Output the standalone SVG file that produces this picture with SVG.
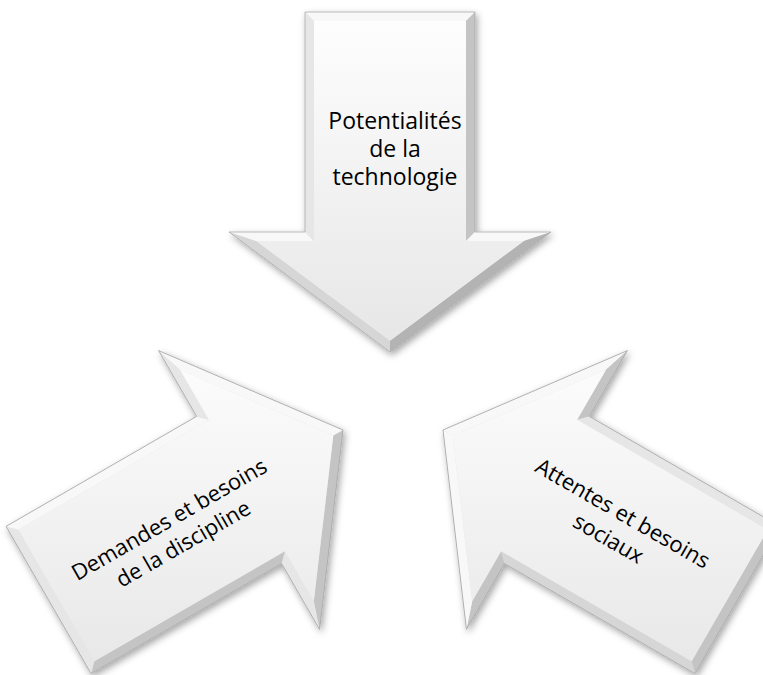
<svg xmlns="http://www.w3.org/2000/svg" xmlns:xlink="http://www.w3.org/1999/xlink" width="763" height="675" viewBox="0 0 763 675">
<style>
.lbl{font-family:"Open Sans","Noto Sans","DejaVu Sans",sans-serif;font-size:22px;fill:#000;text-anchor:middle}
.big{font-size:23px}
.edge{fill:none;stroke:#a9a9a9;stroke-width:0.8;stroke-linejoin:miter}
.c1{fill:#f8f8f8}.c2{fill:#e6e6e6}.c3{fill:#d6d6d6}.c4{fill:#c4c4c4}.c5{fill:#b3b3b3}
</style>
<defs>
<filter id="sh" x="-20%" y="-20%" width="140%" height="140%">
<feDropShadow dx="2" dy="3" stdDeviation="3.5" flood-color="#000" flood-opacity="0.35"/>
</filter>
<linearGradient id="gTop" gradientUnits="userSpaceOnUse" x1="-340" y1="0" x2="0" y2="0">
<stop offset="0" stop-color="#fefefe"/><stop offset="1" stop-color="#e6e6e6"/>
</linearGradient>
<linearGradient id="gLeft" gradientUnits="userSpaceOnUse" x1="-80" y1="-156" x2="-260" y2="156">
<stop offset="0" stop-color="#fefefe"/><stop offset="1" stop-color="#e6e6e6"/>
</linearGradient>
<linearGradient id="gRight" gradientUnits="userSpaceOnUse" x1="-80" y1="156" x2="-260" y2="-156">
<stop offset="0" stop-color="#fefefe"/><stop offset="1" stop-color="#e6e6e6"/>
</linearGradient>
<polygon id="outer" points="0,0 -120,161 -120,85 -340,85 -340,-85 -120,-85 -120,-161"/>
<polygon id="face" points="-11.2,0 -111,133.8 -111,76 -331,76 -331,-76 -111,-76 -111,-133.8"/>
<polygon id="fAB" points="0,0 -120,161 -111,133.8 -11.2,0"/>
<polygon id="fBC" points="-120,161 -120,85 -111,76 -111,133.8"/>
<polygon id="fCD" points="-120,85 -340,85 -331,76 -111,76"/>
<polygon id="fDE" points="-340,85 -340,-85 -331,-76 -331,76"/>
<polygon id="fEF" points="-340,-85 -120,-85 -111,-76 -331,-76"/>
<polygon id="fFG" points="-120,-85 -120,-161 -111,-133.8 -111,-76"/>
<polygon id="fGA" points="-120,-161 0,0 -11.2,0 -111,-133.8"/>
</defs>

<g id="node-technologie">
<g filter="url(#sh)">
<g transform="translate(390,352) rotate(90)">
<use xlink:href="#outer" fill="#e0e0e0"/>
<use xlink:href="#fAB" class="c3"/>
<use xlink:href="#fBC" class="c1"/>
<use xlink:href="#fCD" class="c2"/>
<use xlink:href="#fDE" class="c1"/>
<use xlink:href="#fEF" class="c4"/>
<use xlink:href="#fFG" class="c1"/>
<use xlink:href="#fGA" class="c5"/>
<use xlink:href="#face" fill="url(#gTop)"/>
<use xlink:href="#outer" class="edge"/>
</g>
</g>
<text class="lbl big" x="395" y="129">Potentialités</text>
<text class="lbl big" x="395" y="157">de la</text>
<text class="lbl big" x="395" y="185">technologie</text>
</g>

<g id="node-discipline">
<g filter="url(#sh)">
<g transform="translate(343,430) rotate(-30)">
<use xlink:href="#outer" fill="#e0e0e0"/>
<use xlink:href="#fAB" class="c4"/>
<use xlink:href="#fBC" class="c2"/>
<use xlink:href="#fCD" class="c4"/>
<use xlink:href="#fDE" class="c2"/>
<use xlink:href="#fEF" class="c1"/>
<use xlink:href="#fFG" class="c2"/>
<use xlink:href="#fGA" class="c1"/>
<use xlink:href="#face" fill="url(#gLeft)"/>
<use xlink:href="#outer" class="edge"/>
</g>
</g>
<g transform="translate(173,526) rotate(-30)">
<text class="lbl" x="0" y="0">Demandes et besoins</text>
<text class="lbl" x="0" y="28">de la discipline</text>
</g>
</g>

<g id="node-sociaux">
<g filter="url(#sh)">
<g transform="translate(443,430) rotate(210)">
<use xlink:href="#outer" fill="#e0e0e0"/>
<use xlink:href="#fAB" class="c1"/>
<use xlink:href="#fBC" class="c4"/>
<use xlink:href="#fCD" class="c2"/>
<use xlink:href="#fDE" class="c4"/>
<use xlink:href="#fEF" class="c3"/>
<use xlink:href="#fFG" class="c4"/>
<use xlink:href="#fGA" class="c1"/>
<use xlink:href="#face" fill="url(#gRight)"/>
<use xlink:href="#outer" class="edge"/>
</g>
</g>
<g transform="translate(619,520) rotate(30)">
<text class="lbl" x="0" y="0">Attentes et besoins</text>
<text class="lbl" x="0" y="29">sociaux</text>
</g>
</g>
</svg>
